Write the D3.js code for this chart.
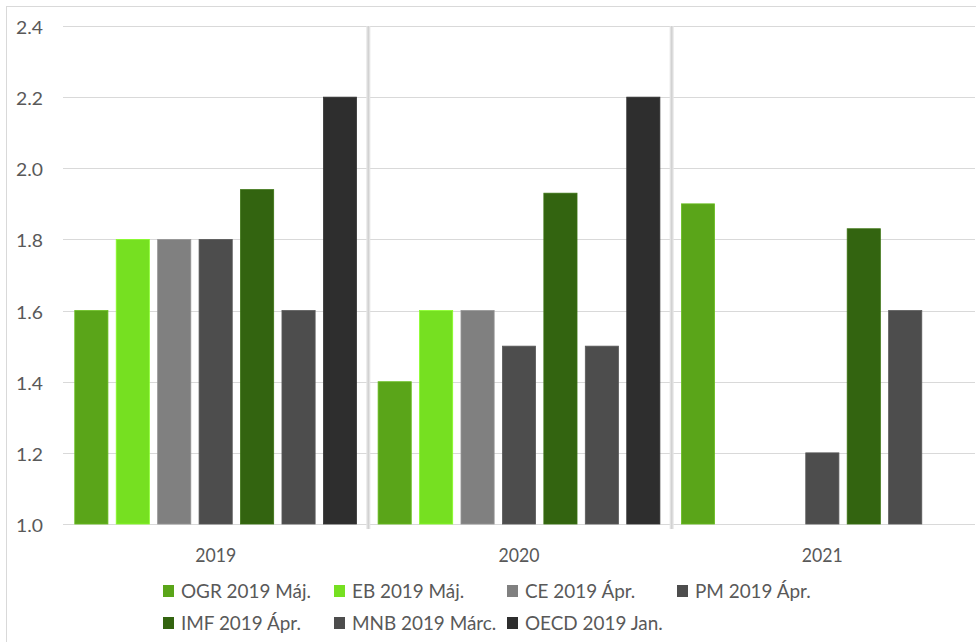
<!DOCTYPE html>
<html><head><meta charset="utf-8">
<script src="https://cdn.jsdelivr.net/npm/d3@7"></script>
<style>
body{margin:0;background:#fff;}
text{font-family:Lato,"Open Sans",sans-serif;fill:#595959;}
</style></head>
<body><svg id="c" width="976" height="642"></svg>
<script>
const categories = ["2019", "2020", "2021"];
const seriesNames = ["OGR 2019 Máj.", "EB 2019 Máj.", "CE 2019 Ápr.", "PM 2019 Ápr.", "IMF 2019 Ápr.", "MNB 2019 Márc.", "OECD 2019 Jan."];
const seriesColors = ["#5aa519", "#76e021", "#808080", "#4d4d4d", "#336410", "#4d4d4d", "#2e2e2e"];
const OGR  = [1.6, 1.4, 1.9];
const EB   = [1.8, 1.6, null];
const CE   = [1.8, 1.6, null];
const PM   = [1.8, 1.5, 1.2];
const IMF  = [1.94, 1.93, 1.83];
const MNB  = [1.6, 1.5, 1.6];
const OECD = [2.2, 2.2, null];
const seriesValues = [OGR, EB, CE, PM, IMF, MNB, OECD];
const yTicks = [1.0, 1.2, 1.4, 1.6, 1.8, 2.0, 2.2, 2.4];

const FONT = 'Lato,"Open Sans",sans-serif';
const svg = d3.select("#c");
const mLeft = 65, mRight = 975, mTop = 26, mBottom = 524;

// horizontal adjustment so text widths match the original face
function fitScale(sel, sample, target) {
  let w = 0;
  sel.each(function () { if (this.textContent === sample) w = this.getComputedTextLength(); });
  return w > 0 ? target / w : 1;
}

// outer chart border
svg.append("rect").attr("x", 6.5).attr("y", 6.5).attr("width", 975).attr("height", 640)
  .attr("fill", "none").attr("stroke", "#d9d9d9");

const x0 = d3.scaleBand().domain(categories).range([mLeft, mRight]).padding(0);
const x1 = d3.scaleBand().domain(d3.range(seriesNames.length)).range([0, x0.bandwidth()])
  .paddingInner(0.2).paddingOuter(0.26);
const y = d3.scaleLinear().domain([1.0, 2.4]).range([mBottom, mTop]);

// gridlines
svg.append("g").selectAll("line").data(yTicks).join("line")
  .attr("x1", mLeft - 2).attr("x2", mRight)
  .attr("y1", d => Math.round(y(d)) + 0.5).attr("y2", d => Math.round(y(d)) + 0.5)
  .attr("stroke", "#d9d9d9").attr("stroke-width", 1);

// y labels
const yAxis = d3.axisLeft(y).tickValues(yTicks).tickFormat(d3.format(".1f")).tickSize(0).tickPadding(0);
const gy = svg.append("g").attr("transform", `translate(43,0)`).call(yAxis);
gy.select(".domain").remove();
const yt = gy.selectAll("text").attr("font-size", 18).attr("fill", "#595959")
  .attr("y", 1).attr("dy", "0.36em").style("font-family", FONT);
const ys = fitScale(yt, "2.4", 27);
yt.attr("transform", `scale(${ys},1)`);

// category separators
const seps = categories.slice(1);
svg.append("g").selectAll("rect").data(seps).join("rect")
  .attr("x", d => x0(d) - 2).attr("y", mTop).attr("width", 4).attr("height", mBottom - mTop + 5)
  .attr("fill", "#e4e4e4");
svg.append("g").selectAll("line").data(seps).join("line")
  .attr("x1", d => x0(d)).attr("x2", d => x0(d)).attr("y1", mTop).attr("y2", mBottom + 5)
  .attr("stroke", "#d2d2d2").attr("stroke-width", 1.5);

// bars
const rows = [];
categories.forEach((c, ci) => seriesValues.forEach((vals, si) => {
  if (vals[ci] != null) rows.push({c, si, v: vals[ci]});
}));
svg.append("g").selectAll("rect").data(rows).join("rect")
  .attr("x", d => x0(d.c) + x1(d.si) - 1)
  .attr("y", d => y(d.v))
  .attr("width", x1.bandwidth())
  .attr("height", d => y(1.0) - y(d.v))
  .attr("fill", d => seriesColors[d.si])
  .attr("stroke", d => d3.color(seriesColors[d.si]).brighter(0.4))
  .attr("stroke-width", 0.8);

// x labels
const xAxis = d3.axisBottom(x0).tickSize(0).tickPadding(0);
const gx = svg.append("g").attr("transform", `translate(-1,562)`).call(xAxis);
gx.select(".domain").remove();
const xt = gx.selectAll("text").attr("font-size", 19.5).attr("fill", "#595959")
  .attr("y", 0).attr("dy", 0).style("font-family", FONT);
const xs = fitScale(xt, "2019", 41);
xt.attr("transform", `scale(${xs},1)`);

// legend
const legend = svg.append("g");
const colX = [163, 334, 507, 677], rowY = [591, 623];
const items = legend.selectAll("g").data(seriesNames).join("g")
  .attr("transform", (d, i) => `translate(${colX[i % 4]},${rowY[Math.floor(i / 4)]})`);
items.append("rect").attr("x", 0).attr("y", -6).attr("width", 11).attr("height", 12)
  .attr("fill", (d, i) => seriesColors[i]);
const lt = items.append("text").attr("dy", "0.36em").attr("font-size", 19.5).text(d => d);
const ls = fitScale(lt, "OGR 2019 Máj.", 130);
lt.attr("transform", `translate(18,0) scale(${ls},1)`);
</script></body></html>
